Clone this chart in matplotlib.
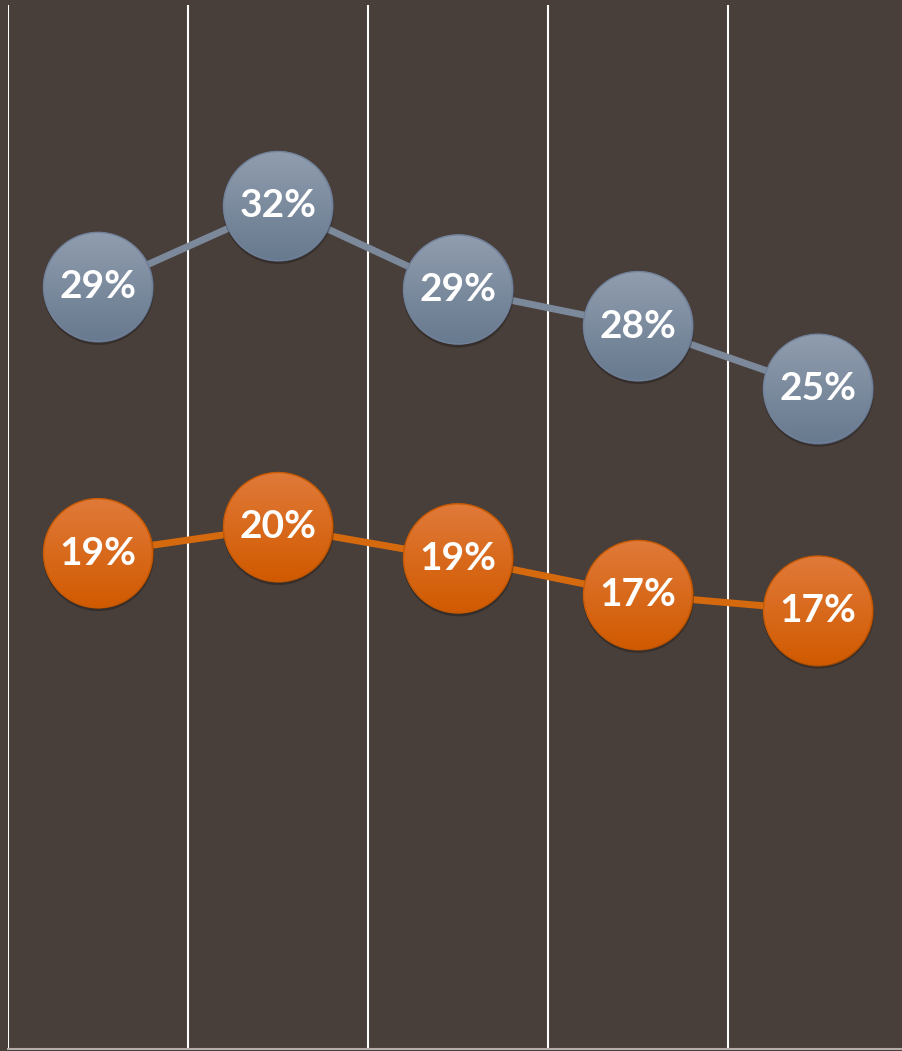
import matplotlib
matplotlib.use("Agg")
import matplotlib.pyplot as plt
import numpy as np
from matplotlib.patches import Circle
from matplotlib.transforms import ScaledTranslation
from matplotlib.colors import LinearSegmentedColormap

# ---- data ----
categories = ["C1", "C2", "C3", "C4", "C5"]
gray_values = [29.2, 32.3, 29.1, 27.7, 25.3]
orange_values = [19.0, 20.0, 18.8, 17.4, 16.8]
y_range = [0, 40]

BG = "#483E3A"
fig = plt.figure(figsize=(9.02, 10.51), dpi=100, facecolor=BG)
ax = fig.add_axes([8 / 902, 2 / 1051, 900 / 902, 1044 / 1051])
ax.set_facecolor(BG)

x = np.arange(len(categories))

# vertical separators between categories
for b in np.arange(-0.5, len(categories) + 0.5, 1.0):
    ax.axvline(b, color="white", lw=1.5, zorder=1)

for side in ["top", "right", "left"]:
    ax.spines[side].set_visible(False)
ax.spines["bottom"].set_color("#B5ADA9")
ax.spines["bottom"].set_linewidth(1.5)
ax.set_xticks([])
ax.set_yticks([])

R = 0.545  # marker radius in inches


def draw_series(values, line_color, top, bottom, edge):
    ax.plot(x, values, color=line_color, lw=5, zorder=2, solid_capstyle="butt",
            marker="o", markersize=R * 2 * 72, markerfacecolor=bottom,
            markeredgecolor=edge, markeredgewidth=1.0)
    cmap = LinearSegmentedColormap.from_list("g", [bottom, top])
    grad = np.linspace(0, 1, 256).reshape(-1, 1)
    for xv, yv in zip(x, values):
        tr = fig.dpi_scale_trans + ScaledTranslation(xv, yv, ax.transData)
        shadow = Circle((0.005, -0.025), R + 0.01, transform=tr,
                        facecolor="black", alpha=0.25, edgecolor="none", zorder=3)
        ax.add_patch(shadow)
        im = ax.imshow(grad, cmap=cmap, origin="lower", extent=(-R, R, -R, R),
                       transform=tr, zorder=4, aspect="auto",
                       interpolation="bilinear")
        circ = Circle((0, 0), R, transform=tr, facecolor="none",
                      edgecolor=edge, lw=1.0, zorder=5)
        ax.add_patch(circ)
        im.set_clip_path(circ)
        ax.text(xv, yv, f"{yv:.0f}%", ha="center", va="center", color="white",
                fontsize=28, fontweight="bold", family=["Lato", "DejaVu Sans"],
                zorder=6)


draw_series(gray_values, "#7B899B", "#909DAE", "#687A8F", "#71819A")
draw_series(orange_values, "#D4690E", "#E07A3A", "#D15A00", "#C75A05")

ax.set_xlim(-0.5, len(categories) - 0.5)
ax.set_ylim(*y_range)

fig.savefig("out.png", dpi=100, facecolor=BG)
